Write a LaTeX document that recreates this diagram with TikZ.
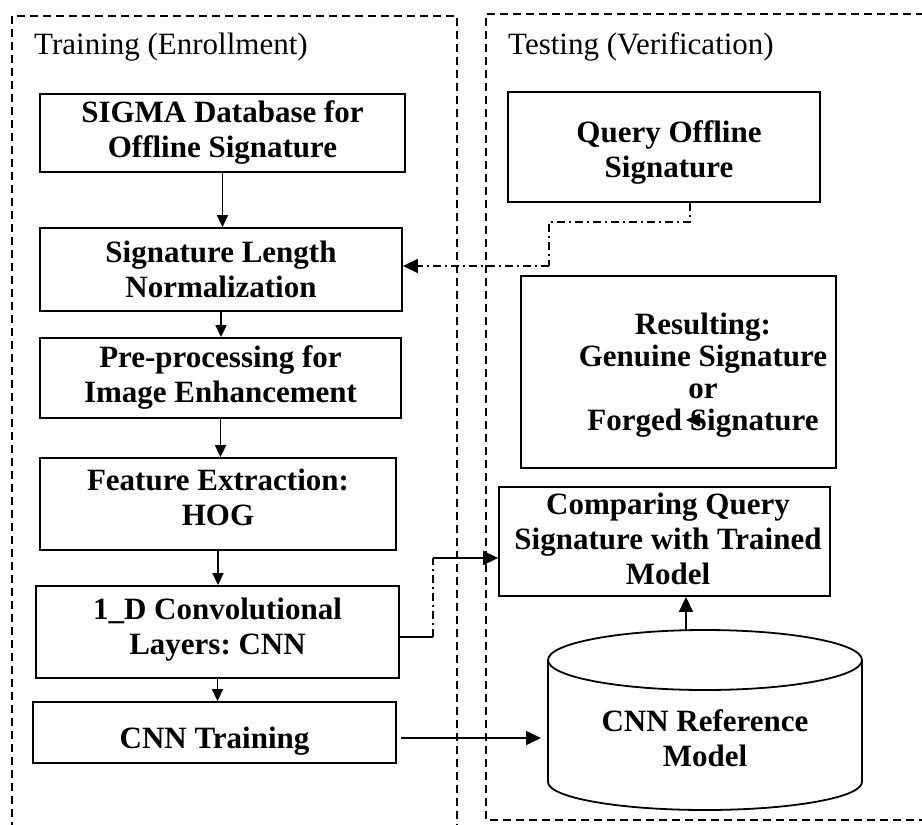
\documentclass[tikz,border=0pt]{standalone}
\usepackage{fontspec}
\setmainfont{Liberation Serif}
\frenchspacing
\usetikzlibrary{arrows.meta,calc}
\begin{document}
\begin{tikzpicture}[x=1pt,y=-1pt,
  boxst/.style={draw,line width=1.8pt,rectangle,inner sep=0pt},
  txt/.style={inner sep=0pt,align=center,
    font=\fontsize{31}{35}\selectfont\bfseries},
  frame/.style={line width=1.6pt,dash pattern=on 8pt off 5pt},
  titlest/.style={anchor=west,inner sep=0pt,font=\fontsize{31}{35}\selectfont},
  arr/.style={line width=1.6pt,-{Triangle[length=15pt,width=14pt]}},
  sarr/.style={line width=1.6pt,-{Triangle[length=12pt,width=11pt]}},
  conn/.style={line width=1.6pt},
  dd/.style={line width=1.6pt,dash pattern=on 8pt off 4pt on 2pt off 4pt}]
\useasboundingbox (0,0) rectangle (922,825);
% frames
\draw[frame] (12,830) -- (12,16) -- (457,16) -- (457,830);
\draw[frame] (940,820) -- (486,820) -- (486,14) -- (940,14);
\node[titlest] (t1) at (34,47) {Training (Enrollment)};
\node[titlest] (t2) at (508,47) {Testing (Verification)};
% left column
\node[boxst,minimum width=365pt,minimum height=78pt] (b1) at (222.5,133) {};
\node[txt] (b1t) at (222.5,133) {SIGMA Database for\\Offline Signature};
\node[boxst,minimum width=362pt,minimum height=83pt] (b2) at (221,269.5) {};
\node[txt] (b2t) at (221,269.5) {Signature Length\\Normalization};
\node[boxst,minimum width=361pt,minimum height=80pt] (b3) at (220.5,378) {};
\node[txt] (b3t) at (220.5,378) {Pre-processing for\\Image Enhancement};
\node[boxst,minimum width=356pt,minimum height=92pt] (b4) at (218,504) {};
\node[txt] (b4t) at (218,497) {Feature Extraction:\\HOG};
\node[boxst,minimum width=363pt,minimum height=92pt] (b5) at (217.5,632) {};
\node[txt] (b5t) at (217.5,630) {1\_D Convolutional\\Layers: CNN};
\node[boxst,minimum width=363pt,minimum height=61pt] (b6) at (214.5,732.5) {};
\node[txt] (b6t) at (214.5,741) {CNN Training};
\draw[sarr] (b1.south) -- (b1.south |- b2.north);
\draw[sarr] (b2.south) -- (b2.south |- b3.north);
\draw[sarr] (b3.south) -- (b3.south |- b4.north);
\draw[sarr] (b4.south) -- (b4.south |- b5.north);
\draw[sarr] (b5.south) -- (b5.south |- b6.north);
% right column
\node[boxst,minimum width=312pt,minimum height=110pt] (q) at (664,147) {};
\node[txt] (qt) at (669,153) {Query Offline\\Signature};
\node[boxst,minimum width=315pt,minimum height=192pt] (res) at (678.5,372) {};
\node[txt,font=\fontsize{31}{32}\selectfont\bfseries] (rest) at (703,375) {Resulting:\\Genuine Signature\\or\\Forged Signature};
\node[boxst,minimum width=331pt,minimum height=109pt] (cmp) at (664.5,541.5) {};
\node[txt] (cmpt) at (668,539) {Comparing Query\\Signature with Trained\\Model};
% cylinder
\draw[line width=1.8pt] (548,660) -- (548,782) arc[start angle=180,end angle=360,x radius=157pt,y radius=28pt] -- (862,660);
\draw[line width=1.8pt] (705,660) ellipse [x radius=157pt,y radius=30pt];
\node[txt] (ref) at (705,738) {CNN Reference\\Model};
% connectors
\coordinate (qa) at (690,222);
\coordinate (qb) at (549,222);
\coordinate (qc) at (549,266);
\draw[dd] (q.south -| qa) -- (qa) -- (qb) -- (qc);
\draw[dd,-{Triangle[length=15pt,width=14pt]}] (qc) -- (b2.east |- qc);
\coordinate (c1) at (433,637);
\coordinate (c2) at (433,558);
\draw[conn] (b5.east |- c1) -- (c1);
\draw[dd] (c1) -- (c2);
\draw[arr] (c2) -- (cmp.west |- c2);
\coordinate (s6) at (401,738);
\coordinate (e6) at (541,738);
\draw[arr] (s6) -- (e6);
\coordinate (cyltop) at (686,630);
\draw[arr] (cyltop) -- (cyltop |- cmp.south);
\coordinate (fa) at (704,420);
\coordinate (fb) at (686,420);
\draw[line width=1.2pt,-{Triangle[length=14pt,width=13pt]}] (fa) -- (fb);
\end{tikzpicture}
\end{document}
